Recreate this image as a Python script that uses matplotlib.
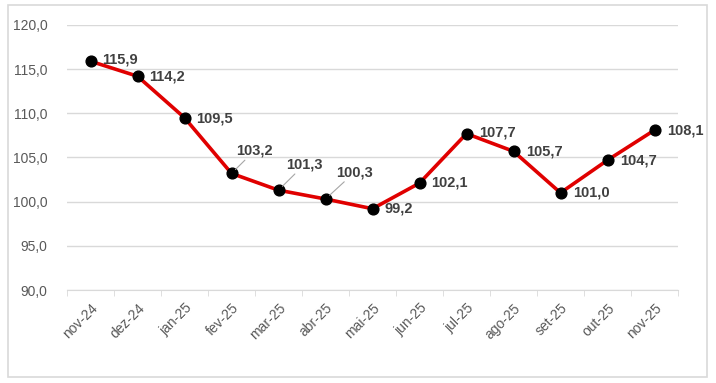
import numpy as np
import matplotlib.pyplot as plt
from matplotlib.patches import Rectangle

plt.rcParams['font.family'] = ['Liberation Sans', 'DejaVu Sans']

months = ['nov-24', 'dez-24', 'jan-25', 'fev-25', 'mar-25', 'abr-25', 'mai-25',
          'jun-25', 'jul-25', 'ago-25', 'set-25', 'out-25', 'nov-25']
values = [115.9, 114.2, 109.5, 103.2, 101.3, 100.3, 99.2,
          102.1, 107.7, 105.7, 101.0, 104.7, 108.1]
yticks = [90, 95, 100, 105, 110, 115, 120]

# label offsets in pixels (x, y); some use a leader line
offsets = [(12, 2), (12, 0), (12, -1), (5, 23), (8, 26), (11, 27), (12, 0),
           (12, 1), (13, 1), (13, 0), (13, 0), (13, 0), (13, 0)]
leader = [False, False, False, True, True, True, False,
          False, False, False, False, False, False]

W, H = 716, 383
fig = plt.figure(figsize=(W / 100, H / 100), dpi=100)
fig.patches.append(Rectangle((8 / W, 1 - 377 / H), 699 / W, 372 / H,
                             transform=fig.transFigure, fill=False,
                             edgecolor='#d9d9d9', lw=1.2))

ax = fig.add_axes([67 / W, 1 - 290 / H, 611 / W, 265 / H])
x = np.arange(len(months))
ax.plot(x, values, color='#e00000', lw=2.6, zorder=3)
ax.scatter(x, values, s=60, color='black', zorder=4)

for i, v in enumerate(values):
    lab = f'{v:.1f}'.replace('.', ',')
    if leader[i]:
        ax.annotate(lab, (i, v), xytext=offsets[i], textcoords='offset pixels',
                    ha='left', va='center', fontsize=10.5, fontweight='bold',
                    color='#404040', zorder=5,
                    arrowprops=dict(arrowstyle='-', color='#a6a6a6', lw=0.8,
                                    shrinkA=0, shrinkB=4))
    else:
        ax.annotate(lab, (i, v), xytext=offsets[i], textcoords='offset pixels',
                    ha='left', va='center', fontsize=10.5, fontweight='bold',
                    color='#404040', zorder=5)

ax.set_xlim(-0.5, len(months) - 0.5)
ax.set_ylim(90, 120)
ax.set_yticks(yticks)
ax.set_yticklabels([f'{t:.1f}'.replace('.', ',') for t in yticks])
ax.set_xticks(x)
ax.set_xticklabels(months, rotation=45, ha='right', rotation_mode='anchor')
ax.set_xticks(np.arange(-0.5, len(months)), minor=True)
ax.tick_params(axis='x', which='major', length=0, pad=8, labelsize=10,
               labelcolor='#595959')
ax.tick_params(axis='x', which='minor', length=4, color='#d9d9d9')
ax.tick_params(axis='y', length=0, pad=14, labelsize=10, labelcolor='#595959')

ax.grid(axis='y', color='#d9d9d9', lw=1)
ax.set_axisbelow(True)
for s in ['top', 'right', 'left']:
    ax.spines[s].set_visible(False)
ax.spines['bottom'].set_color('#d9d9d9')

fig.savefig('out.png', dpi=100)
